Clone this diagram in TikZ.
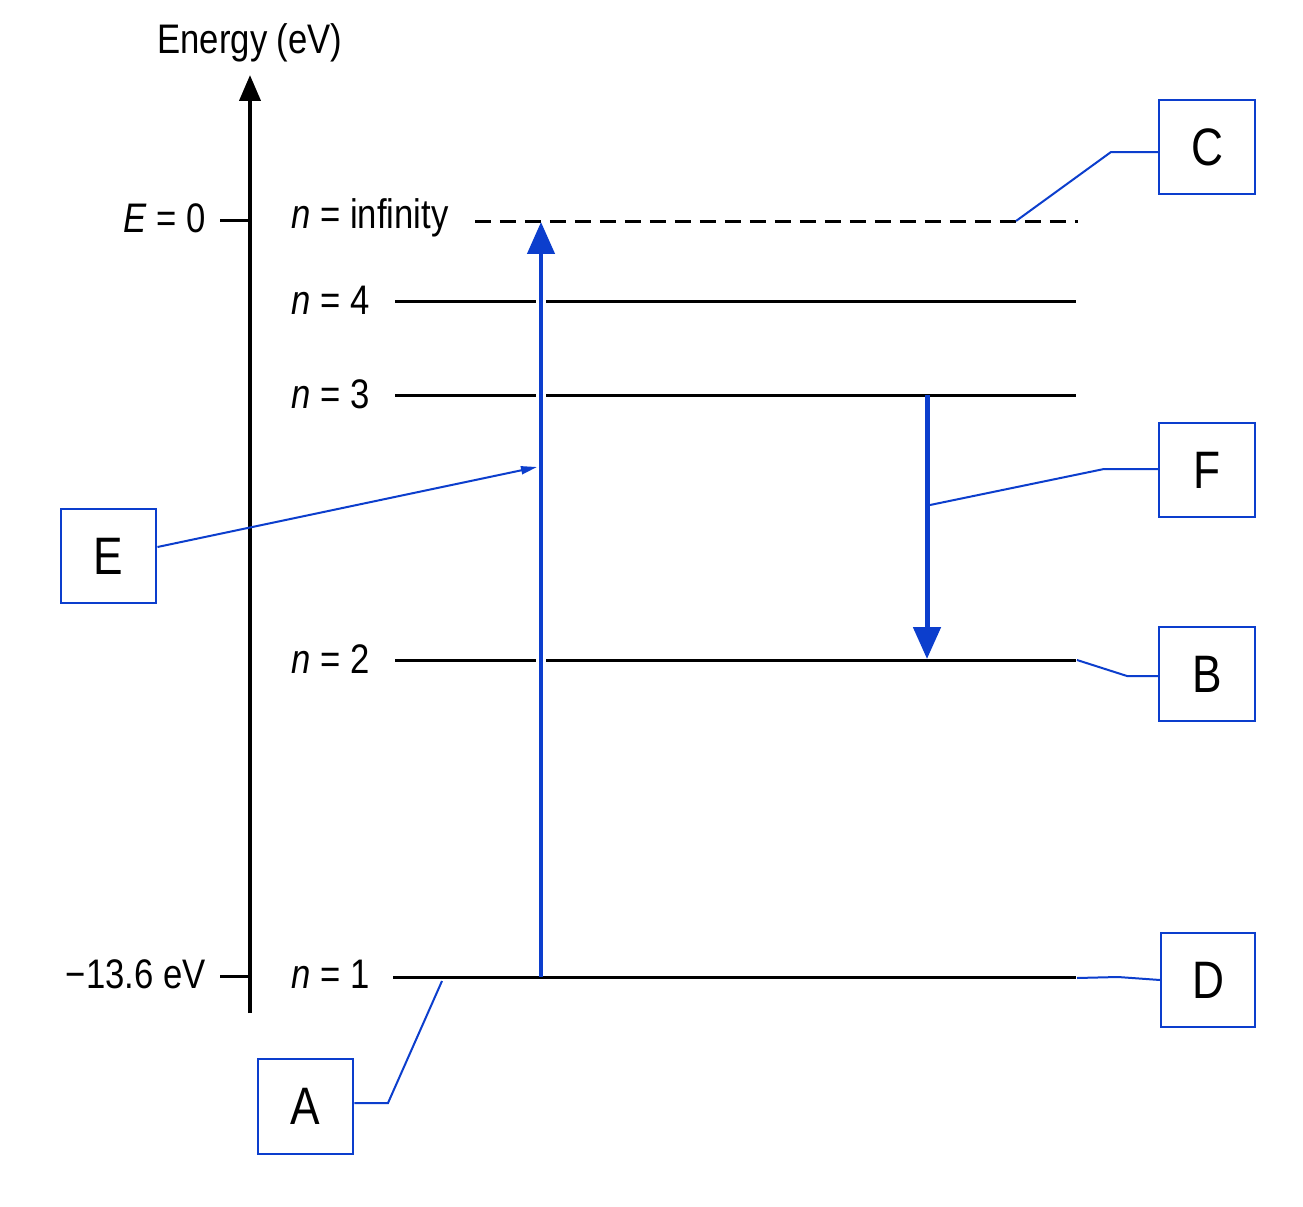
\documentclass[tikz,border=0pt]{standalone}
\usepackage{fontspec}
\setmainfont{Liberation Sans}[FakeStretch=0.84]
\usetikzlibrary{arrows.meta}
\definecolor{bl}{RGB}{12,62,205}
\begin{document}
\begin{tikzpicture}[x=0.02cm,y=-0.02cm,
  lbl/.style={font=\fontsize{23.5}{28}\selectfont, inner sep=0},
  box/.style={draw=bl, line width=0.04cm, minimum width=1.92cm, minimum height=1.9cm, font=\fontsize{30}{36}\selectfont, inner sep=0},
  lvl/.style={line width=0.06cm},
  conn/.style={draw=bl, line width=0.04cm},
  bigarrow/.style={draw=bl, line width=0.09cm, -{Triangle[length=0.64cm,width=0.54cm]}}]
\useasboundingbox[fill=white] (0,0) rectangle (1303,1207);
% axis
\coordinate (ax0) at (250,1013);
\coordinate (ax1) at (250,75);
\draw[line width=0.08cm, -{Triangle[length=0.52cm,width=0.42cm]}] (ax0) -- (ax1);
\node[lbl] (energy) at (250,43) {Energy (eV)};
\coordinate (t0a) at (220,220); \coordinate (t0b) at (250,220);
\coordinate (t1a) at (220,976); \coordinate (t1b) at (250,976);
\draw[lvl] (t0a) -- (t0b);
\draw[lvl] (t1a) -- (t1b);
\node[lbl, anchor=east] (e0) at (206,218) {\textit{E} = 0};
\node[lbl, anchor=east] (e1) at (206,974) {−13.6 eV};
% level labels
\node[lbl, anchor=west] (ninf) at (291,218) {\textit{n} = infinity};
\node[lbl, anchor=west] (n4) at (291,300) {\textit{n} = 4};
\node[lbl, anchor=west] (n3) at (291,394) {\textit{n} = 3};
\node[lbl, anchor=west] (n2) at (291,659) {\textit{n} = 2};
\node[lbl, anchor=west] (n1) at (291,974) {\textit{n} = 1};
% level lines
\coordinate (linfa) at (475,221); \coordinate (linfb) at (1078,221);
\coordinate (l4a) at (395,301); \coordinate (l4b) at (1076,301);
\coordinate (l3a) at (395,395); \coordinate (l3b) at (1076,395);
\coordinate (l2a) at (395,660); \coordinate (l2b) at (1076,660);
\coordinate (l1a) at (393,977); \coordinate (l1b) at (1076,977);
\draw[lvl, dash pattern=on 0.32cm off 0.18cm] (linfa) -- (linfb);
\draw[lvl] (l4a) -- (l4b);
\draw[lvl] (l3a) -- (l3b);
\draw[lvl] (l2a) -- (l2b);
\draw[lvl] (l1a) -- (l1b);
% gap + up arrow
\coordinate (upa) at (541,977); \coordinate (upb) at (541,222);
\coordinate (gapa) at (541,940); \coordinate (gapb) at (541,270);
\draw[white, line width=0.2cm] (gapa) -- (gapb);
\draw[bigarrow] (upa) -- (upb);
% down arrow
\coordinate (dna) at (927,395); \coordinate (dnb) at (927,659);
\draw[bigarrow, line width=0.1cm] (dna) -- (dnb);
% boxes
\node[box] (C) at (1207,147) {C};
\node[box] (F) at (1207,470) {F};
\node[box] (B) at (1207,674) {B};
\node[box, minimum width=1.88cm] (D) at (1208,980) {D};
\node[box] (A) at (305.5,1106.5) {A};
\node[box] (E) at (108.5,556) {E};
% connectors
\coordinate (cC1) at (1111,152); \coordinate (cC2) at (1016,221);
\draw[conn] (C.west |- cC1) -- (cC1) -- (cC2);
\coordinate (cF1) at (1104,469); \coordinate (cF2) at (930,505);
\draw[conn] (F.west |- cF1) -- (cF1) -- (cF2);
\coordinate (cB1) at (1127,676); \coordinate (cB2) at (1077,660);
\draw[conn] (B.west |- cB1) -- (cB1) -- (cB2);
\coordinate (cD1) at (1118,977); \coordinate (cD2) at (1077,978);
\draw[conn] (D.west) -- (cD1) -- (cD2);
\coordinate (cA1) at (388,1103); \coordinate (cA2) at (442,981);
\draw[conn] (A.east |- cA1) -- (cA1) -- (cA2);
\coordinate (cE1) at (537,467); \coordinate (cE0) at (157,547);
\draw[conn, -{Triangle[length=0.32cm,width=0.16cm]}] (E.east |- cE0) -- (cE1);
\end{tikzpicture}
\end{document}
